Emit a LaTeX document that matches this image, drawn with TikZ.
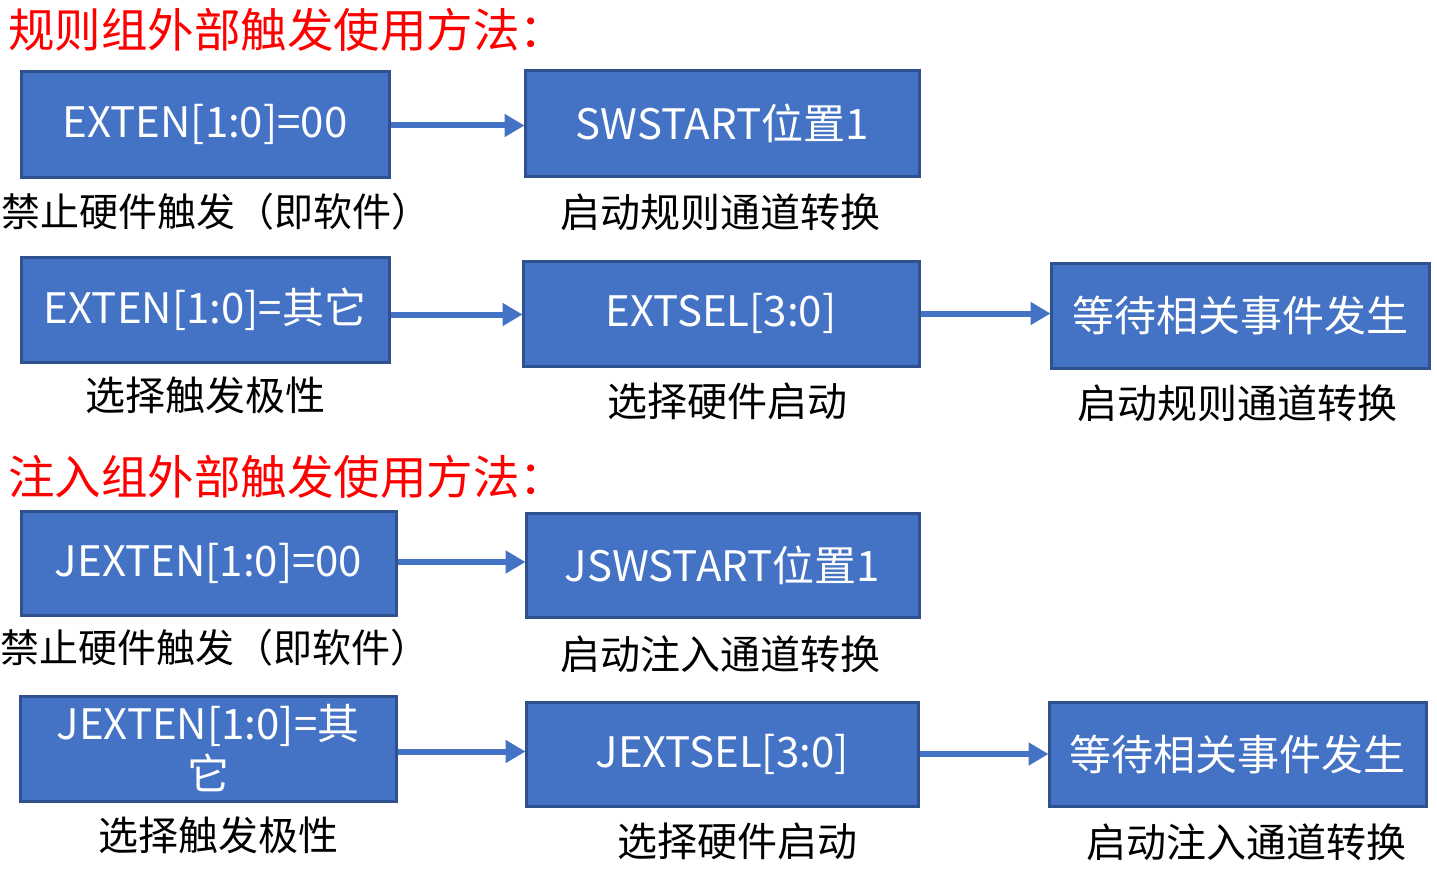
\documentclass[tikz,border=0pt]{standalone}
\usepackage{fontspec}
\setmainfont{Noto Sans CJK SC}
\usetikzlibrary{arrows.meta}
\definecolor{boxfill}{HTML}{4472C4}
\definecolor{boxline}{HTML}{2F528F}
\definecolor{titlered}{HTML}{FF0000}
\tikzset{
  box/.style={draw=boxline, line width=3pt, fill=boxfill, text=white, inner sep=0pt, align=center, font=\fontsize{42}{50}\selectfont},
  lbl/.style={font=\fontsize{40}{46}\selectfont, text=black, inner sep=0pt},
  lblw/.style={font=\fontsize{39}{46}\selectfont, text=black, inner sep=0pt, anchor=west},
  ttl/.style={font=\fontsize{46.5}{52}\selectfont, text=titlered, inner sep=0pt, anchor=west},
  conn/.style={draw=boxfill, line width=6pt, -{Triangle[length=20pt,width=22pt]}, shorten >=-1pt}
}
\newcommand{\bx}[6]{\node[box, minimum width=#3pt-#2pt, minimum height=#5pt-#4pt] (#1) at ({(#2+#3)/2}, {-(#4+#5)/2}) {#6};}
\begin{document}
\begin{tikzpicture}[x=1pt,y=1pt]
\useasboundingbox[fill=white] (0,0) rectangle (1437,-872);
\node[ttl] (t1) at (8,-30) {规则组外部触发使用方法：};
\node[ttl] (t2) at (8,-477) {注入组外部触发使用方法：};
\bx{b1}{21}{389}{72}{177}{EXTEN[1:0]=00}
\bx{b2}{525}{919}{71}{176}{SWSTART位置1}
\bx{b3}{21}{389}{257}{362}{EXTEN[1:0]=其它}
\bx{b4}{523}{919}{261}{366}{EXTSEL[3:0]}
\bx{b5}{1051}{1429}{263}{368}{等待相关事件发生}
\bx{b6}{21}{396}{511}{615}{JEXTEN[1:0]=00}
\bx{b7}{526}{919}{513}{617}{JSWSTART位置1}
\bx{b8}{20}{396}{696}{801}{JEXTEN[1:0]=其\\它}
\bx{b9}{526}{918}{702}{806}{JEXTSEL[3:0]}
\bx{b10}{1049}{1426}{702}{806}{等待相关事件发生}
\node[lblw] (l1) at (1,-212) {禁止硬件触发（即软件）};
\node[lbl] (l2) at (720,-212) {启动规则通道转换};
\node[lbl] (l3) at (205,-395) {选择触发极性};
\node[lbl] (l4) at (727,-401) {选择硬件启动};
\node[lbl] (l5) at (1237,-403) {启动规则通道转换};
\node[lblw] (l6) at (0,-648) {禁止硬件触发（即软件）};
\node[lbl] (l7) at (720,-654) {启动注入通道转换};
\node[lbl] (l8) at (218,-835) {选择触发极性};
\node[lbl] (l9) at (737,-841) {选择硬件启动};
\node[lbl] (l10) at (1246,-842) {启动注入通道转换};
\coordinate (a1) at ([yshift=-1pt]b1.east);
\draw[conn] (a1) -- (a1 -| b2.west);
\coordinate (a3) at ([yshift=-5pt]b3.east);
\draw[conn] (a3) -- (a3 -| b4.west);
\coordinate (a4) at ([yshift=-0pt]b4.east);
\draw[conn] (a4) -- (a4 -| b5.west);
\coordinate (a6) at ([yshift=1pt]b6.east);
\draw[conn] (a6) -- (a6 -| b7.west);
\coordinate (a8) at ([yshift=-3pt]b8.east);
\draw[conn] (a8) -- (a8 -| b9.west);
\coordinate (a9) at ([yshift=0pt]b9.east);
\draw[conn] (a9) -- (a9 -| b10.west);
\end{tikzpicture}
\end{document}
